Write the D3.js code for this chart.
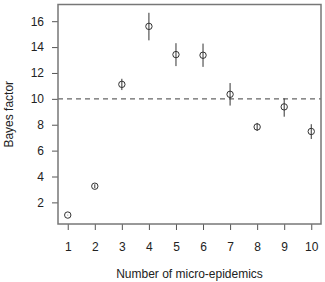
<!DOCTYPE html>
<html>
<head>
<meta charset="utf-8">
<script src="https://cdn.jsdelivr.net/npm/d3@7"></script>
<style>
  body { margin: 0; background: #fff; }
  text { font-family: "Liberation Sans", Arial, sans-serif; fill: #222; }
</style>
</head>
<body>
<div id="chart"></div>
<script>
// Data
const epidemics = [1, 2, 3, 4, 5, 6, 7, 8, 9, 10];
const bayes = [1.02, 3.25, 11.12, 15.6, 13.42, 13.37, 10.35, 7.83, 9.38, 7.48];
const errLow = [1.0, 3.1, 10.68, 14.52, 12.53, 12.47, 9.48, 7.52, 8.62, 6.9];
const errHigh = [1.04, 3.4, 11.55, 16.65, 14.3, 14.27, 11.22, 8.14, 10.03, 8.04];
const yTicks = [2, 4, 6, 8, 10, 12, 14, 16];
const threshold = 10;

const width = 325, height = 282;
const box = { left: 58, right: 321, top: 4.5, bottom: 224 };

const svg = d3.select("#chart").append("svg")
    .attr("width", width)
    .attr("height", height);

const x = d3.scaleLinear().domain([0.64, 10.36]).range([box.left, box.right]);
const y = d3.scaleLinear().domain([0.33, 17.29]).range([box.bottom, box.top]);

// Threshold line
svg.append("line")
    .attr("x1", box.left).attr("x2", box.right)
    .attr("y1", y(threshold)).attr("y2", y(threshold))
    .attr("stroke", "#666")
    .attr("stroke-width", 1.2)
    .attr("stroke-dasharray", "5,4");

// Axes
const xAxis = d3.axisBottom(x).tickValues(epidemics).tickSize(6).tickPadding(12);
const yAxis = d3.axisLeft(y).tickValues(yTicks).tickSize(6).tickPadding(8);

const gx = svg.append("g")
    .attr("transform", `translate(0,${box.bottom})`)
    .call(xAxis);
const gy = svg.append("g")
    .attr("transform", `translate(${box.left},0)`)
    .call(yAxis);

[gx, gy].forEach(g => {
    g.select(".domain").remove();
    g.selectAll(".tick line").attr("stroke", "#555");
    g.selectAll(".tick text").attr("font-size", 12).style("fill", "#222");
});

// Plot frame
svg.append("rect")
    .attr("x", box.left).attr("y", box.top)
    .attr("width", box.right - box.left)
    .attr("height", box.bottom - box.top)
    .attr("fill", "none")
    .attr("stroke", "#777")
    .attr("stroke-width", 1.5);

// Error bars
svg.append("g").selectAll("line")
    .data(epidemics)
    .join("line")
    .attr("x1", (d) => x(d)).attr("x2", (d) => x(d))
    .attr("y1", (d, i) => y(errLow[i]))
    .attr("y2", (d, i) => y(errHigh[i]))
    .attr("stroke", "#333")
    .attr("stroke-width", 1);

// Points
svg.append("g").selectAll("circle")
    .data(epidemics)
    .join("circle")
    .attr("cx", (d) => x(d))
    .attr("cy", (d, i) => y(bayes[i]))
    .attr("r", 3.2)
    .attr("fill", "none")
    .attr("stroke", "#333")
    .attr("stroke-width", 1);

// Axis titles
svg.append("text")
    .attr("x", (box.left + box.right) / 2)
    .attr("y", 278)
    .attr("text-anchor", "middle")
    .attr("font-size", 12)
    .text("Number of micro-epidemics");

svg.append("text")
    .attr("transform", `translate(13,${(box.top + box.bottom) / 2}) rotate(-90)`)
    .attr("text-anchor", "middle")
    .attr("font-size", 12)
    .text("Bayes factor");
</script>
</body>
</html>
